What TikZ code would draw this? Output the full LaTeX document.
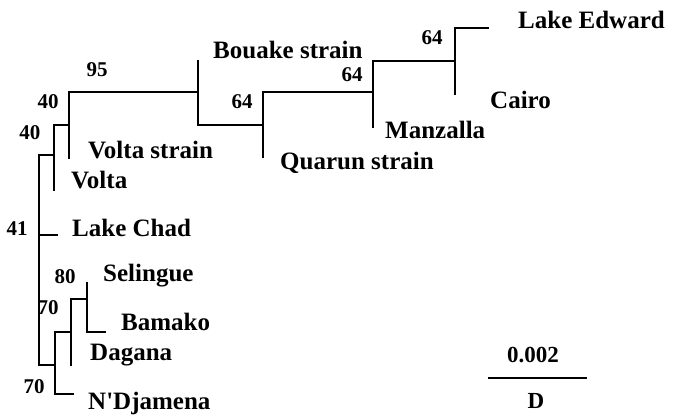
\documentclass[tikz,border=0pt]{standalone}
\usepackage{fontspec}
\setmainfont{Liberation Serif}
\usetikzlibrary{positioning,calc}

\begin{document}
\begin{tikzpicture}[
  x=1pt, y=-1pt,
  branch/.style={line width=1.8pt, line cap=rect},
  leaf/.style={font=\bfseries\fontsize{25}{28}\selectfont, anchor=west, inner sep=0pt},
  boot/.style={font=\bfseries\fontsize{21}{24}\selectfont, inner sep=0pt}
]
\useasboundingbox (0,0) rectangle (674,415);

% Internal nodes
\coordinate (root) at (39,235);
\coordinate (na) at (54,155);
\coordinate (nb) at (69,125);
\coordinate (nc) at (198,92);
\coordinate (nd) at (263,125);
\coordinate (ne) at (373,92);
\coordinate (nf) at (455,61);
\coordinate (ng) at (55,365);
\coordinate (nh) at (71,332);
\coordinate (ni) at (87,299);

% Tips
\coordinate (tEdward) at (488,28);
\coordinate (tCairo) at (455,94);
\coordinate (tManzalla) at (373,127);
\coordinate (tQuarun) at (263,157);
\coordinate (tBouake) at (198,61);
\coordinate (tVoltaS) at (69,158);
\coordinate (tVolta) at (54,190);
\coordinate (tChad) at (57,235);
\coordinate (tSelingue) at (87,283);
\coordinate (tBamako) at (105,332);
\coordinate (tDagana) at (71,365);
\coordinate (tNDjamena) at (73,394);

% Branches
\draw[branch] (root) |- (na);
\draw[branch] (root) -- (tChad);
\draw[branch] (root) |- (ng);
\draw[branch] (na) |- (nb);
\draw[branch] (na) -- (tVolta);
\draw[branch] (nb) |- (nc);
\draw[branch] (nb) -- (tVoltaS);
\draw[branch] (nc) -- (tBouake);
\draw[branch] (nc) |- (nd);
\draw[branch] (nd) |- (ne);
\draw[branch] (nd) -- (tQuarun);
\draw[branch] (ne) |- (nf);
\draw[branch] (ne) -- (tManzalla);
\draw[branch] (nf) |- (tEdward);
\draw[branch] (nf) -- (tCairo);
\draw[branch] (ng) |- (nh);
\draw[branch] (ng) |- (tNDjamena);
\draw[branch] (nh) |- (ni);
\draw[branch] (nh) -- (tDagana);
\draw[branch] (ni) -- (tSelingue);
\draw[branch] (ni) |- (tBamako);

% Leaf labels
\node[leaf] (lEdward) at (518,20) {Lake Edward};
\node[leaf] (lBouake) at (213,50) {Bouake strain};
\node[leaf] (lCairo) at (490,100) {Cairo};
\node[leaf] (lManzalla) at (385,130) {Manzalla};
\node[leaf] (lVoltaS) at (88,150) {Volta strain};
\node[leaf] (lQuarun) at (280,163) {Quarun strain};
\node[leaf] (lVolta) at (71,180) {Volta};
\node[leaf] (lChad) at (72,228) {Lake Chad};
\node[leaf] (lSelingue) at (103,276) {Selingue};
\node[leaf] (lBamako) at (121,322) {Bamako};
\node[leaf] (lDagana) at (90,355) {Dagana};
\node[leaf] (lNDjamena) at (88,403) {N\textquotesingle Djamena};

% Bootstrap values
\node[boot] (b95) at (97,70) {95};
\node[boot] (b40a) at (48,102) {40};
\node[boot] (b40b) at (30,133) {40};
\node[boot] (b41) at (17,229) {41};
\node[boot] (b80) at (65,277) {80};
\node[boot] (b70a) at (48,308) {70};
\node[boot] (b70b) at (34,387) {70};
\node[boot] (b64a) at (242,102) {64};
\node[boot] (b64b) at (352,75) {64};
\node[boot] (b64c) at (432,38) {64};

% Scale bar
\coordinate (sbL) at (488,378);
\coordinate (sbR) at (587,378);
\draw[branch, line cap=butt] (sbL) -- (sbR);
\node[boot, font=\bfseries\fontsize{23}{26}\selectfont] (sbVal) at (533,355) {0.002};
\node[boot, font=\bfseries\fontsize{23}{26}\selectfont] (sbD) at (536,401) {D};

\end{tikzpicture}
\end{document}
